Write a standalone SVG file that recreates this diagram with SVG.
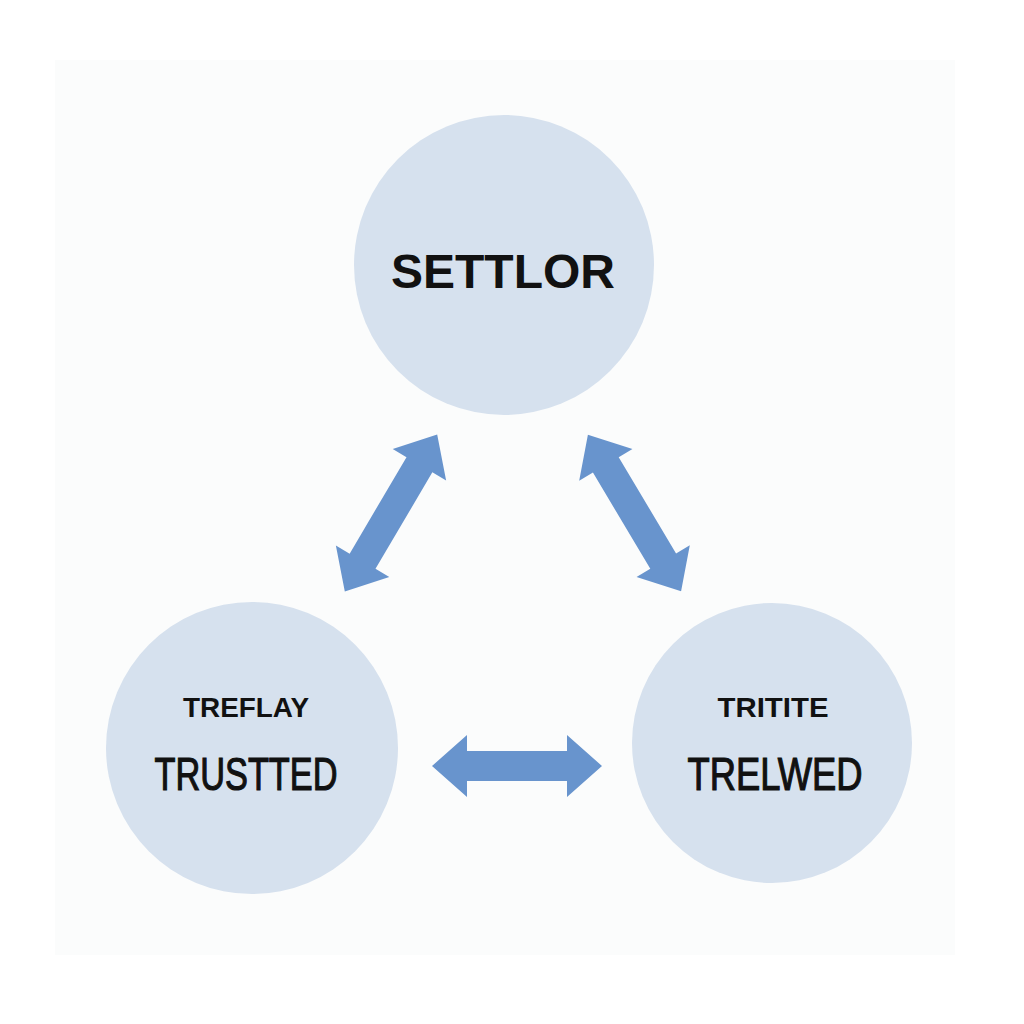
<svg xmlns="http://www.w3.org/2000/svg" width="1024" height="1024" viewBox="0 0 1024 1024">
  <style>
    .node { fill: #d6e1ee; }
    .arrow { fill: #6894cd; }
    .title { font-family: "Liberation Sans", Arial, sans-serif; font-weight: bold; fill: #111; text-anchor: middle; }
    .hand { font-family: "Liberation Sans", Arial, sans-serif; font-weight: normal; fill: #111; text-anchor: middle; }
  </style>
  <rect x="0" y="0" width="1024" height="1024" fill="#ffffff"/>
  <rect x="55" y="60" width="900" height="895" fill="#fbfcfc"/>

  <g id="node-settlor">
    <circle class="node" cx="504" cy="265" r="150"/>
    <text class="title" x="503" y="288" font-size="48">SETTLOR</text>
  </g>

  <g id="node-trustee-left">
    <circle class="node" cx="252" cy="748" r="146"/>
    <text class="title" x="246" y="717" font-size="28" textLength="126" lengthAdjust="spacingAndGlyphs">TREFLAY</text>
    <text class="hand" x="246" y="790" font-size="46" textLength="183" lengthAdjust="spacingAndGlyphs" stroke="#111" stroke-width="1.2">TRUSTTED</text>
  </g>

  <g id="node-beneficiary-right">
    <circle class="node" cx="772" cy="743" r="140"/>
    <text class="title" x="773" y="717" font-size="28" textLength="111" lengthAdjust="spacingAndGlyphs">TRITITE</text>
    <text class="hand" x="775" y="790" font-size="46" textLength="175" lengthAdjust="spacingAndGlyphs" stroke="#111" stroke-width="1.2">TRELWED</text>
  </g>

  <g id="connectors">
    <polygon class="arrow" transform="translate(517,766)" points="-85,0 -50,-31 -50,-15 50,-15 50,-31 85,0 50,31 50,15 -50,15 -50,31"/>
    <polygon class="arrow" transform="translate(391,513) rotate(120.5)" points="-91,0 -56,-31 -56,-15 56,-15 56,-31 91,0 56,31 56,15 -56,15 -56,31"/>
    <polygon class="arrow" transform="translate(634.5,513) rotate(59.2)" points="-91,0 -56,-31 -56,-15 56,-15 56,-31 91,0 56,31 56,15 -56,15 -56,31"/>
  </g>
</svg>
